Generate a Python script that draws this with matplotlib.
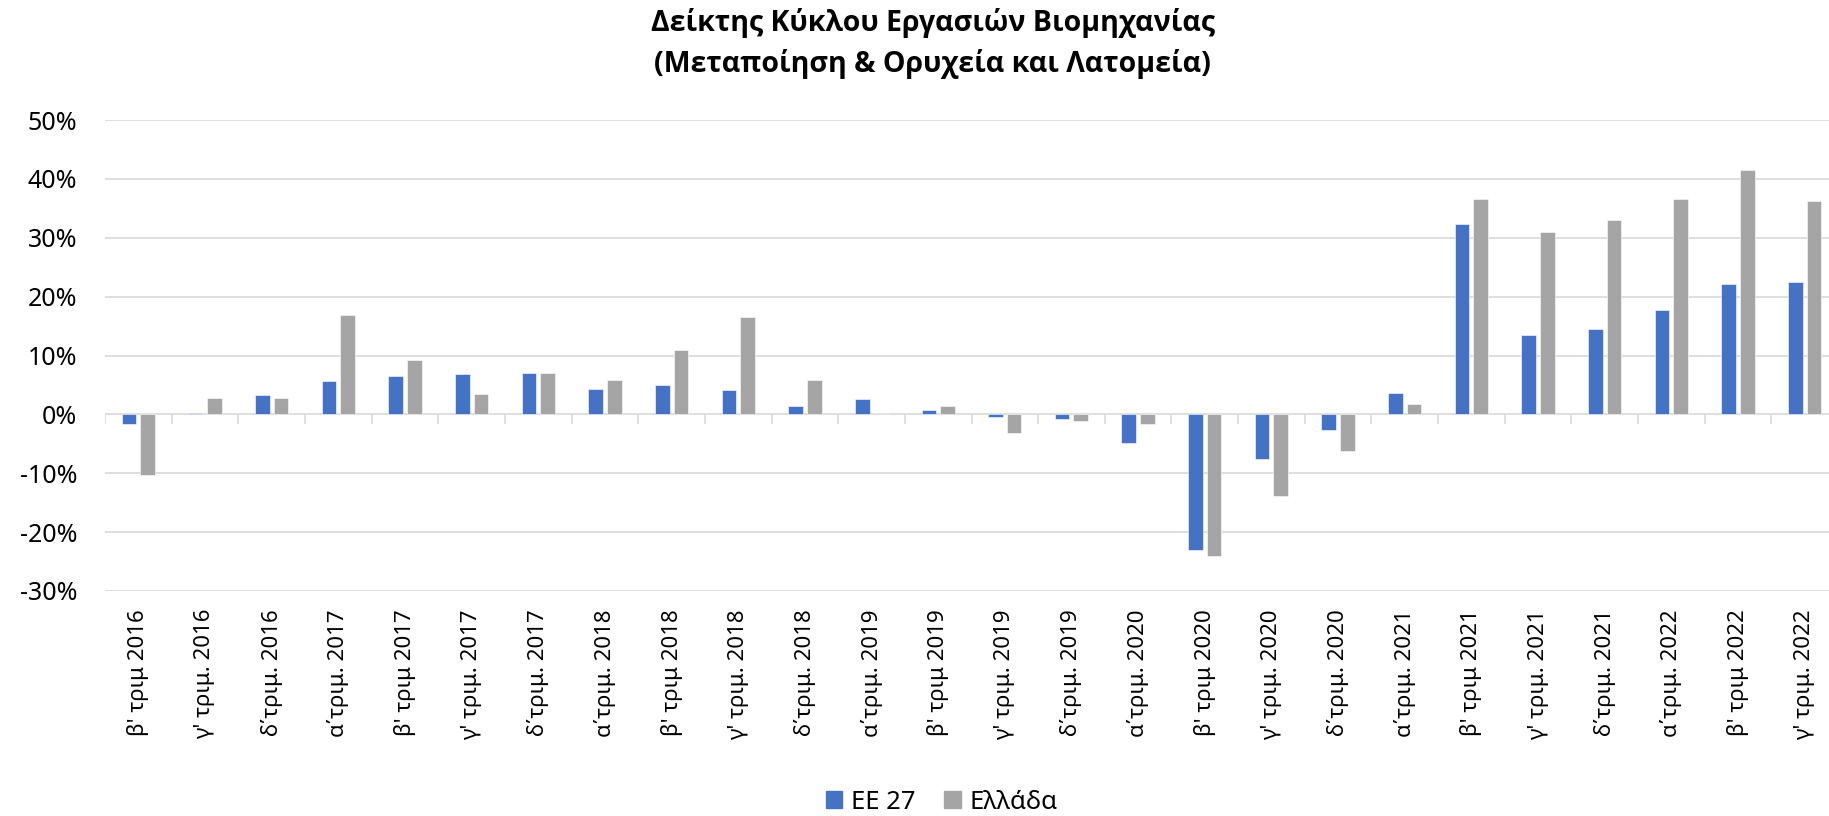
import matplotlib.pyplot as plt
import numpy as np
from matplotlib.ticker import PercentFormatter
from matplotlib.patches import Patch

plt.rcParams['font.family'] = ['Noto Sans', 'DejaVu Sans']
plt.rcParams['axes.unicode_minus'] = False

# quarters on the x axis
quarters = ["β' τριμ 2016", "γ' τριμ. 2016", "δ΄τριμ. 2016", "α΄τριμ. 2017",
            "β' τριμ 2017", "γ' τριμ. 2017", "δ΄τριμ. 2017", "α΄τριμ. 2018",
            "β' τριμ 2018", "γ' τριμ. 2018", "δ΄τριμ. 2018", "α΄τριμ. 2019",
            "β' τριμ 2019", "γ' τριμ. 2019", "δ΄τριμ. 2019", "α΄τριμ. 2020",
            "β' τριμ 2020", "γ' τριμ. 2020", "δ΄τριμ. 2020", "α΄τριμ. 2021",
            "β' τριμ 2021", "γ' τριμ. 2021", "δ΄τριμ. 2021", "α΄τριμ. 2022",
            "β' τριμ 2022", "γ' τριμ. 2022"]

# yearly change, %
eu27 = [-1.6, 0.2, 3.3, 5.7, 6.6, 6.8, 7.0, 4.3, 5.0, 4.1, 1.4, 2.6, 0.7,
        -0.5, -0.8, -4.8, -23.1, -7.6, -2.7, 3.6, 32.4, 13.5, 14.5, 17.7, 22.1, 22.4]
greece = [-10.3, 2.7, 2.8, 16.8, 9.2, 3.4, 7.1, 5.8, 10.9, 16.6, 5.8, 0.3, 1.4,
          -3.1, -1.1, -1.7, -24.1, -13.9, -6.3, 1.8, 36.6, 30.9, 33.0, 36.6, 41.5, 36.3]

series_names = ["ΕΕ 27", "Ελλάδα"]
blue = "#4472C4"
gray = "#A5A5A5"
grid_c = "#D9D9D9"

fig = plt.figure(figsize=(18.29, 8.16), dpi=100)
ax = fig.add_axes([105 / 1829, 1 - 591 / 816, (1838 - 105) / 1829, (591 - 120) / 816])

x = np.arange(len(quarters))
w = 0.22
ax.bar(x - 0.14, eu27, width=w, color=blue, edgecolor="white", linewidth=0.4, zorder=3)
ax.bar(x + 0.14, greece, width=w, color=gray, edgecolor="white", linewidth=0.4, zorder=3)

ax.set_xlim(-0.5, len(quarters) - 0.5)
ax.set_ylim(-30, 50)
ax.set_yticks(np.arange(-30, 51, 10))
ax.yaxis.set_major_formatter(PercentFormatter(100, decimals=0))
ax.grid(axis="y", color=grid_c, linewidth=1.2, zorder=0)
for s in ax.spines.values():
    s.set_visible(False)

ax.set_xticks(x)
ax.set_xticklabels(quarters, rotation=90, fontsize=16, va="top")
ax.tick_params(axis="x", length=0, pad=13)
ax.tick_params(axis="y", length=0, pad=20, labelsize=18)

# small separators under the zero line
edges = np.arange(-0.5, len(quarters), 1.0)
ax.vlines(edges, -1.55, 0, color=grid_c, linewidth=1.2, zorder=1)

title_font = ['Open Sans', 'DejaVu Sans']
fig.text(0.51, 1 - 23 / 816, "Δείκτης Κύκλου Εργασιών Βιομηχανίας",
         ha="center", va="center", fontsize=20.5, fontweight="bold", family=title_font)
fig.text(0.51, 1 - 64 / 816, "(Μεταποίηση & Ορυχεία και Λατομεία)",
         ha="center", va="center", fontsize=20.5, fontweight="bold", family=title_font)

handles = [Patch(color=blue), Patch(color=gray)]
fig.legend(handles, series_names, loc="center", bbox_to_anchor=(0.515, 0.017),
           ncol=2, frameon=False, fontsize=18.5, handlelength=0.65, handleheight=0.65,
           handletextpad=0.35, columnspacing=1.1)

fig.savefig("out.png", dpi=100)
